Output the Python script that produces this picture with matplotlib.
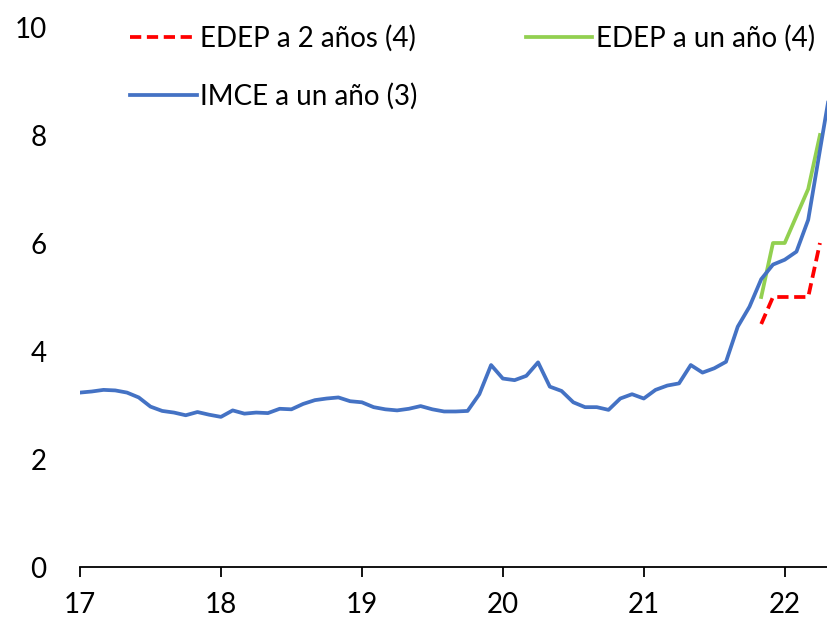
import matplotlib
matplotlib.use("Agg")
import matplotlib.pyplot as plt
import numpy as np

plt.rcParams['font.family'] = ['Lato', 'DejaVu Sans']

# IMCE a un año (3): mensual, ene-2017 a may-2022
imce = [3.23, 3.25, 3.28, 3.27, 3.23, 3.14, 2.97, 2.89, 2.86, 2.81, 2.87, 2.82,
        2.78, 2.90, 2.84, 2.86, 2.85, 2.93, 2.92, 3.02, 3.09, 3.12, 3.14, 3.07,
        3.05, 2.96, 2.92, 2.90, 2.93, 2.98, 2.92, 2.88, 2.88, 2.89, 3.20, 3.74,
        3.49, 3.46, 3.54, 3.79, 3.34, 3.26, 3.05, 2.96, 2.96, 2.91, 3.12, 3.20,
        3.12, 3.28, 3.36, 3.40, 3.74, 3.60, 3.68, 3.80, 4.45, 4.82, 5.33, 5.60,
        5.69, 5.84, 6.43, 7.72, 9.00]
# EDEP: nov-2021 a abr-2022
edep_1 = [5.0, 6.0, 6.0, 6.5, 7.0, 8.0]
edep_2 = [4.5, 5.0, 5.0, 5.0, 5.0, 6.0]
edep_start = 58  # indice del mes nov-2021

x_imce = 17 + np.arange(len(imce)) / 12
x_edep = 17 + (edep_start + np.arange(len(edep_1))) / 12

fig = plt.figure(figsize=(8.27, 6.19), dpi=100)
ax = fig.add_axes([80 / 827, 52 / 619, 747 / 827, 540 / 619])

l_red, = ax.plot(x_edep, edep_2, color='#FF0000', lw=2.7, dashes=(3.0, 1.5),
                 label='EDEP a 2 años (4)')
l_green, = ax.plot(x_edep, edep_1, color='#92D050', lw=2.7,
                   label='EDEP a un año (4)')
l_blue, = ax.plot(x_imce, imce, color='#4472C4', lw=2.7,
                  label='IMCE a un año (3)')

ax.set_xlim(17, 22.3)
ax.set_ylim(0, 10)
ax.set_xticks([17, 18, 19, 20, 21, 22])
ax.set_yticks([0, 2, 4, 6, 8, 10])
for s in ['top', 'right', 'left']:
    ax.spines[s].set_visible(False)
ax.spines['bottom'].set_linewidth(1.3)
ax.tick_params(axis='x', direction='out', length=7, width=1.3, pad=11,
               labelsize=20)
ax.tick_params(axis='y', length=0, pad=24, labelsize=20)

fig.legend([l_red, l_blue, l_green],
           ['EDEP a 2 años (4)', 'IMCE a un año (3)', 'EDEP a un año (4)'],
           ncol=2, loc='upper left', bbox_to_anchor=(130 / 827, 1 - 25 / 619),
           frameon=False, borderpad=0, borderaxespad=0, handlelength=2.4,
           handletextpad=0.12, columnspacing=3.9, labelspacing=1.1,
           prop={'size': 20})

fig.savefig('out.png', dpi=100)
